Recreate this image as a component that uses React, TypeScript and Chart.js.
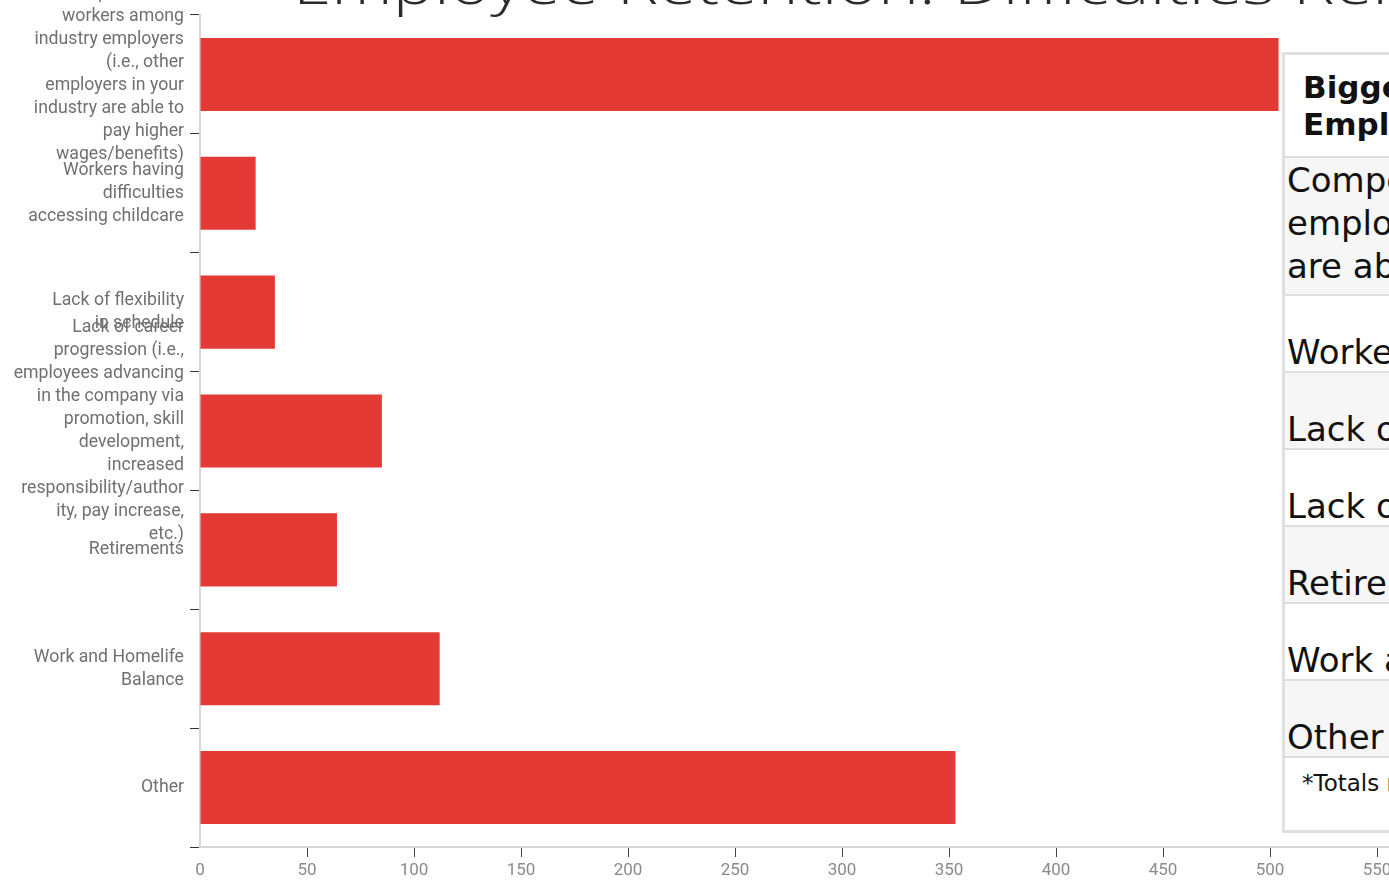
import React, { useEffect, useRef } from "react";
import { Chart, registerables } from "chart.js";

Chart.register(...registerables);

// ---------- data ----------
const categories: string[][] = [
  ["Competition for", "workers among", "industry employers", "(i.e., other", "employers in your", "industry are able to", "pay higher", "wages/benefits)"],
  ["Workers having", "difficulties", "accessing childcare"],
  ["Lack of flexibility", "in schedule"],
  ["Lack of career", "progression (i.e.,", "employees advancing", "in the company via", "promotion, skill", "development,", "increased", "responsibility/author", "ity, pay increase,", "etc.)"],
  ["Retirements"],
  ["Work and Homelife", "Balance"],
  ["Other"],
];
const responses: number[] = [504, 26, 35, 85, 64, 112, 353];
const xMin = 0;
const xMax = 600;
const xStep = 50;

const titleText = "Employee Retention: Difficulties Related to Turnover";
const tableHeader: string[] = ["Biggest Difficulties for", "Employers"];
const tableRows: string[][] = [
  ["Competition for workers", "employers in your industry", "are able to pay higher wages"],
  ["Workers having difficulties accessing childcare"],
  ["Lack of flexibility in schedule"],
  ["Lack of career progression"],
  ["Retirements"],
  ["Work and Homelife Balance"],
  ["Other"],
];
const tableFooter = "*Totals may exceed the number of respondents";

const TABLE_FONT = "'DejaVu Sans', 'Noto Sans', sans-serif";
const AXIS_FONT = "Roboto, sans-serif";

export default function App() {
  const canvasRef = useRef<HTMLCanvasElement | null>(null);

  useEffect(() => {
    if (!canvasRef.current) return;
    const chart = new Chart(canvasRef.current, {
      type: "bar",
      data: {
        labels: categories as any,
        datasets: [
          {
            data: responses,
            backgroundColor: "#e43a36",
            borderWidth: 0,
            barPercentage: 0.615,
            categoryPercentage: 1,
          },
        ],
      },
      options: {
        indexAxis: "y",
        responsive: false,
        animation: false,
        layout: { padding: { top: 15, right: 16, left: 0, bottom: 0 } },
        plugins: {
          legend: { display: false },
          tooltip: { enabled: false },
          title: { display: false },
        },
        scales: {
          x: {
            min: xMin,
            max: xMax,
            ticks: {
              stepSize: xStep,
              color: "#8a8a8a",
              font: { family: AXIS_FONT, size: 17 },
              padding: 4,
            },
            grid: {
              drawOnChartArea: false,
              tickLength: 10,
              tickColor: (ctx: any) => (ctx.tick && ctx.tick.value === 0 ? "rgba(0,0,0,0)" : "#444"),
            },
            border: { color: "#d6d6d6", width: 2 },
            afterFit: (s: any) => {
              s.height = 33;
              s.paddingLeft = 0;
              s.paddingRight = 0;
            },
          },
          y: {
            ticks: {
              color: "#707070",
              font: { family: AXIS_FONT, size: 17.7, lineHeight: "23px" } as any,
              padding: 6,
              autoSkip: false,
            },
            grid: {
              drawOnChartArea: false,
              tickLength: 10,
              tickColor: "#333",
            },
            border: { color: "#d6d6d6", width: 2 },
            afterFit: (s: any) => {
              s.width = 200;
              s.paddingTop = 0;
              s.paddingBottom = 0;
            },
          },
        },
      },
    });
    return () => chart.destroy();
  }, []);

  const rowHeights = [138, 77, 77, 77, 77, 77, 77];

  return (
    <div
      style={{
        position: "fixed",
        left: 0,
        top: 0,
        width: 1389,
        height: 880,
        overflow: "hidden",
        background: "#fff",
      }}
    >
      <canvas
        ref={canvasRef}
        width={1500}
        height={880}
        style={{ position: "absolute", left: 0, top: 0, width: 1500, height: 880 }}
      />
      <div
        style={{
          position: "absolute",
          left: 293,
          top: -46,
          whiteSpace: "nowrap",
          fontFamily: "'Open Sans', sans-serif",
          fontWeight: 300,
          fontSize: 56,
          lineHeight: "56px",
          color: "#2b2b2b",
          transform: "scaleX(1.24)",
          transformOrigin: "left top",
        }}
      >
        {titleText}
      </div>
      <div
        style={{
          position: "absolute",
          left: 1282,
          top: 52,
          width: 600,
          height: 781,
          boxSizing: "border-box",
          border: "3px solid #e0e0e0",
          background: "#fff",
          fontFamily: TABLE_FONT,
          color: "#111",
          whiteSpace: "nowrap",
        }}
      >
        <div
          style={{
            height: 103,
            borderBottom: "2px solid #dedede",
            background: "#fff",
            paddingLeft: 18,
            paddingTop: 14,
            boxSizing: "border-box",
            fontWeight: 700,
            fontSize: 31,
            lineHeight: "37px",
          }}
        >
          {tableHeader.map((l, i) => (
            <div key={i}>{l}</div>
          ))}
        </div>
        {tableRows.map((lines, i) => (
          <div
            key={i}
            style={{
              height: rowHeights[i],
              borderBottom: "2px solid #dedede",
              background: i % 2 === 0 ? "#f6f6f6" : "#fff",
              display: "flex",
              flexDirection: "column",
              justifyContent: "flex-end",
              paddingLeft: 2,
              paddingBottom: i === 0 ? 6 : 0,
              boxSizing: "border-box",
              fontSize: 34,
              lineHeight: i === 0 ? "43px" : "37px",
            }}
          >
            {lines.map((l, j) => (
              <div key={j}>{l}</div>
            ))}
          </div>
        ))}
        <div style={{ paddingLeft: 17, paddingTop: 10, fontSize: 23, lineHeight: "30px" }}>{tableFooter}</div>
      </div>
    </div>
  );
}
